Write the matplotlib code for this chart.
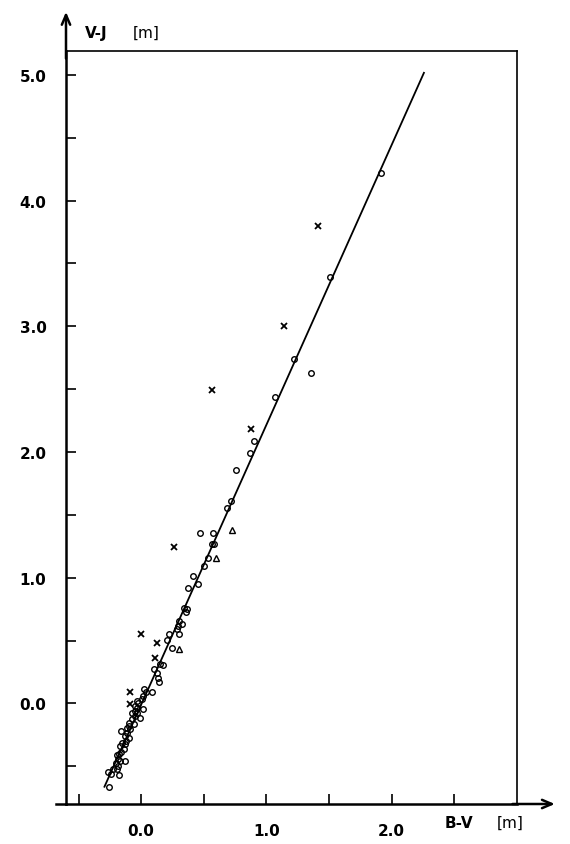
import matplotlib
matplotlib.use("Agg")
import matplotlib.pyplot as plt
import numpy as np

# B-V / V-J colours
circ_bv = [-0.159, -0.101, -0.088, -0.114, -0.133, -0.101, -0.122, -0.154, -0.167, -0.128,
           -0.141, -0.159, -0.175, -0.194, -0.181, -0.133, -0.167, -0.202, -0.186, -0.221,
           -0.189, -0.261, -0.239, -0.175, -0.255,
           0.152, 0.178, 0.106, 0.125, 0.138, 0.144, 0.026, 0.037, 0.085, 0.018,
           0.010, -0.034, -0.022, -0.053, -0.030, 0.018, -0.053, -0.074, -0.034, -0.048,
           -0.008, -0.074, -0.096, -0.061, -0.114,
           0.345, 0.364, 0.359, 0.305, 0.325, 0.293, 0.285, 0.303, 0.226, 0.205, 0.245,
           0.470, 0.577, 0.564, 0.582, 0.537, 0.505, 0.417, 0.457, 0.377,
           0.901, 0.869, 0.758, 0.715, 0.683,
           1.911, 1.507, 1.220, 1.353, 1.069]
circ_vj = [-0.221, -0.181, -0.207, -0.233, -0.260, -0.273, -0.295, -0.313, -0.340, -0.326,
           -0.366, -0.385, -0.406, -0.412, -0.446, -0.454, -0.459, -0.472, -0.499, -0.525,
           -0.525, -0.544, -0.560, -0.571, -0.663,
           0.311, 0.303, 0.276, 0.244, 0.205, 0.173, 0.111, 0.090, 0.093, 0.058,
           0.037, 0.018, 0.006, -0.021, -0.034, -0.042, -0.061, -0.080, -0.080, -0.101,
           -0.119, -0.127, -0.154, -0.167, -0.193,
           0.762, 0.754, 0.727, 0.655, 0.629, 0.615, 0.595, 0.549, 0.549, 0.504, 0.438,
           1.359, 1.359, 1.266, 1.266, 1.154, 1.093, 1.013, 0.953, 0.921,
           2.084, 1.990, 1.857, 1.611, 1.558,
           4.22, 3.39, 2.74, 2.63, 2.44]

cross_bv = [1.409, 1.143, 0.564, 0.875, 0.266, 0.000, 0.130, 0.112, -0.088, -0.088]
cross_vj = [3.80, 3.00, 2.49, 2.187, 1.244, 0.555, 0.483, 0.358, 0.093, -0.002]

tri_bv = [0.723, 0.596, 0.305]
tri_vj = [1.380, 1.160, 0.430]

# fitted relation V-J = a + b (B-V)
fit_a, fit_b = -0.01, 2.227
fit_range = [-0.293, 2.257]

fig = plt.figure(figsize=(5.7, 8.45), dpi=100)
ax = fig.add_axes([66 / 570, 1 - 805 / 845, 451 / 570, 753 / 845])

fx = np.array(fit_range)
ax.plot(fx, fit_a + fit_b * fx, color="black", lw=1.3)

ax.plot(circ_bv, circ_vj, "o", ms=4, mfc="none", mec="black", mew=1.0)
ax.plot(cross_bv, cross_vj, "x", ms=4, mec="black", mew=1.3)
ax.plot(tri_bv, tri_vj, "^", ms=4.5, mfc="none", mec="black", mew=1.0)

ax.set_xlim(-0.6, 3.0)
ax.set_ylim(-0.8, 5.19)

ax.set_xticks([0.0, 1.0, 2.0])
ax.set_xticklabels(["0.0", "1.0", "2.0"])
ax.set_xticks([-0.5, 0.5, 1.5, 2.5], minor=True)
ax.set_yticks([0.0, 1.0, 2.0, 3.0, 4.0, 5.0])
ax.set_yticklabels(["0.0", "1.0", "2.0", "3.0", "4.0", "5.0"])
ax.set_yticks([-0.5, 0.5, 1.5, 2.5, 3.5, 4.5], minor=True)

ax.tick_params(which="both", direction="in", length=7, width=1.2,
               top=False, right=False)
ax.tick_params(axis="both", which="major", labelsize=11, pad=14)
for lab in ax.get_xticklabels() + ax.get_yticklabels():
    lab.set_fontweight("bold")

for s in ["left", "bottom"]:
    ax.spines[s].set_linewidth(1.8)
for s in ["top", "right"]:
    ax.spines[s].set_linewidth(1.2)

# axis arrows past the frame
ax.annotate("", xy=(0, 1.052), xytext=(0, 0.99), xycoords="axes fraction",
            arrowprops=dict(arrowstyle="->,head_length=0.7,head_width=0.3", lw=1.8,
                            color="black", shrinkA=0, shrinkB=0))
ax.annotate("", xy=(1.084, 0), xytext=(0.99, 0), xycoords="axes fraction",
            arrowprops=dict(arrowstyle="->,head_length=0.7,head_width=0.3", lw=1.8,
                            color="black", shrinkA=0, shrinkB=0))
ax.plot([-0.022, 0], [0, 0], transform=ax.transAxes, color="black", lw=1.8, clip_on=False)

ax.text(0.042, 1.025, "V-J", transform=ax.transAxes, fontsize=11, fontweight="bold",
        va="center", ha="left")
ax.text(0.148, 1.025, "[m]", transform=ax.transAxes, fontsize=11,
        va="center", ha="left")
ax.text(0.84, -0.024, "B-V", transform=ax.transAxes, fontsize=11, fontweight="bold",
        va="center", ha="left")
ax.text(0.955, -0.024, "[m]", transform=ax.transAxes, fontsize=11,
        va="center", ha="left")

fig.savefig("out.png", dpi=100)
